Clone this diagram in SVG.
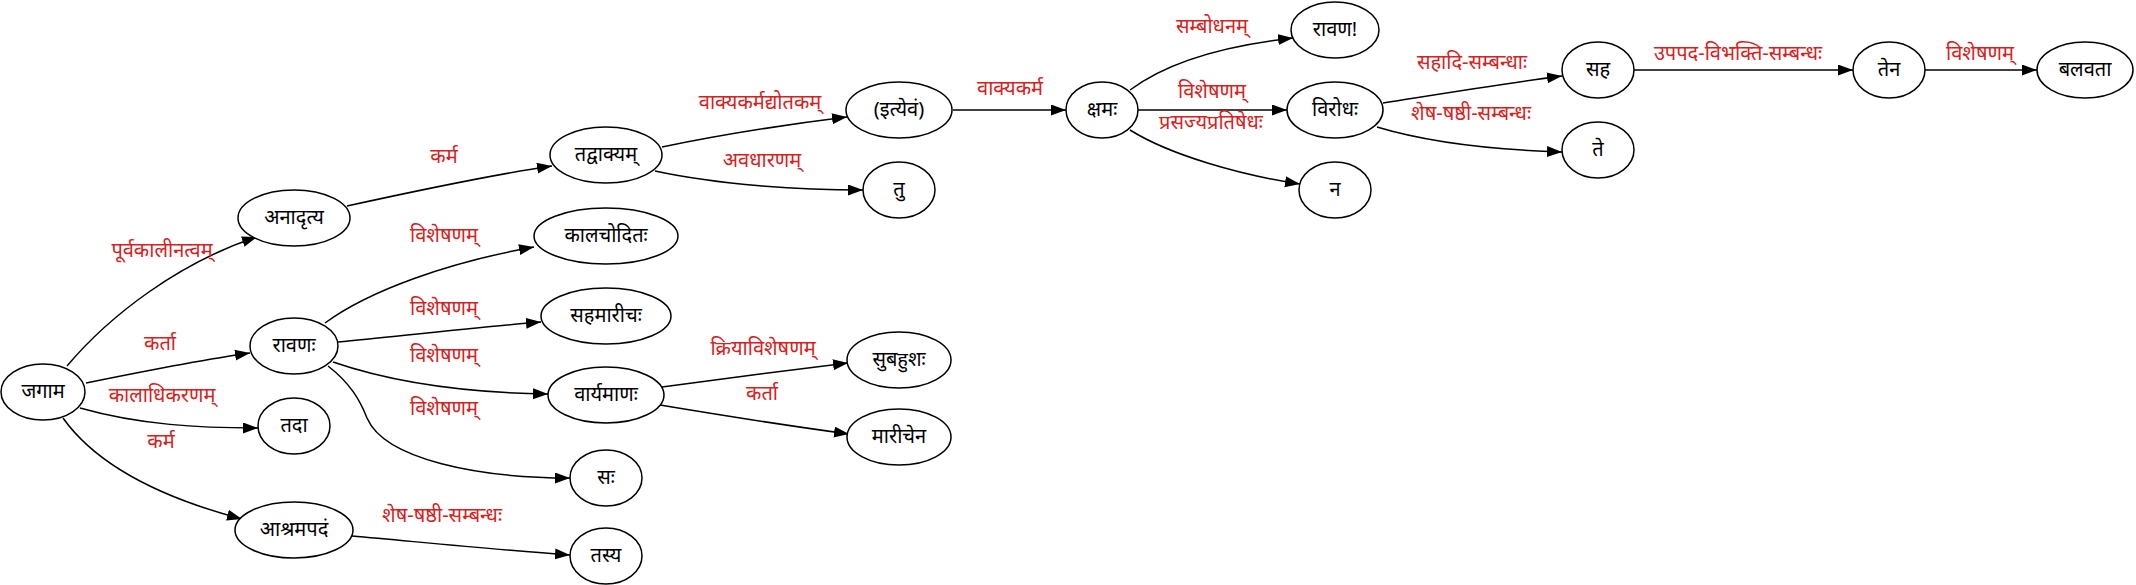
<svg xmlns="http://www.w3.org/2000/svg" width="2136" height="585" viewBox="0 0 2136 585">
<defs>
<marker id="ah" markerUnits="userSpaceOnUse" markerWidth="16" markerHeight="12" refX="15" refY="5.5" orient="auto">
<path d="M0,0 L15,5.5 L0,11 Z" fill="#000"/>
</marker>
<style>
.n ellipse{fill:#fff;stroke:#000;stroke-width:1.5}
.n text{font-family:"Noto Sans","Noto Sans Devanagari","Lohit Devanagari",sans-serif;font-size:20px;fill:#000;text-anchor:middle}
.e path{fill:none;stroke:#000;stroke-width:1.5;marker-end:url(#ah)}
.e text{font-family:"Noto Sans","Noto Sans Devanagari","Lohit Devanagari",sans-serif;font-size:20px;fill:#d42222;text-anchor:middle}
</style>
</defs>
<rect width="2136" height="585" fill="#fff"/>
<g id="edges" class="e">
<path d="M67,366 C110,315 180,262 257,237"/>
<text x="162" y="257">पूर्वकालीनत्वम्</text>
<path d="M86,383 C150,370 200,360 250,353"/>
<text x="160" y="350">कर्ता</text>
<path d="M80,408 C140,425 200,428 258,428"/>
<text x="162" y="402">कालाधिकरणम्</text>
<path d="M63,418 C100,470 170,500 242,519"/>
<text x="161" y="448">कर्म</text>
<path d="M347,206 C420,190 490,175 552,166"/>
<text x="444" y="163">कर्म</text>
<path d="M325,323 C370,290 450,262 534,247"/>
<text x="444" y="242">विशेषणम्</text>
<path d="M338,342 C400,336 470,328 541,322"/>
<text x="444" y="315">विशेषणम्</text>
<path d="M333,362 C400,385 480,393 548,394"/>
<text x="444" y="362">विशेषणम्</text>
<path d="M328,366 C350,383 360,400 367,418 C385,460 480,478 570,478"/>
<text x="444" y="415">विशेषणम्</text>
<path d="M352,536 C430,543 500,550 570,555"/>
<text x="442" y="522">शेष-षष्ठी-सम्बन्धः</text>
<path d="M662,147 C720,135 790,124 847,117"/>
<text x="760" y="109">वाक्यकर्मद्योतकम्</text>
<path d="M655,171 C720,185 800,190 863,190"/>
<text x="762" y="167">अवधारणम्</text>
<path d="M662,387 C720,379 790,370 848,363"/>
<text x="763" y="355">क्रियाविशेषणम्</text>
<path d="M660,405 C720,415 790,426 849,434"/>
<text x="762" y="400">कर्ता</text>
<path d="M953,110 L1066,110"/>
<text x="1010" y="95">वाक्यकर्म</text>
<path d="M1130,90 C1170,60 1230,45 1293,38"/>
<text x="1212" y="33">सम्बोधनम्</text>
<path d="M1138,110 L1287,110"/>
<text x="1212" y="98">विशेषणम्</text>
<path d="M1130,130 C1170,155 1240,175 1300,184"/>
<text x="1211" y="129">प्रसज्यप्रतिषेधः</text>
<path d="M1383,103 C1440,94 1500,84 1562,76"/>
<text x="1472" y="69">सहादि-सम्बन्धाः</text>
<path d="M1377,127 C1430,143 1500,150 1562,152"/>
<text x="1471" y="120">शेष-षष्ठी-सम्बन्धः</text>
<path d="M1634,70 L1853,70"/>
<text x="1738" y="60">उपपद-विभक्ति-सम्बन्धः</text>
<path d="M1925,70 L2037,70"/>
<text x="1980" y="60">विशेषणम्</text>
</g>
<g id="n_jagAma" class="n"><ellipse cx="43" cy="392" rx="42" ry="28"/><text x="43" y="398">जगाम</text></g>
<g id="n_anAdRtya" class="n"><ellipse cx="294" cy="218" rx="56" ry="28"/><text x="294" y="224">अनादृत्य</text></g>
<g id="n_rAvaNaH" class="n"><ellipse cx="294" cy="346" rx="44" ry="28"/><text x="294" y="352">रावणः</text></g>
<g id="n_tadA" class="n"><ellipse cx="294" cy="426" rx="36" ry="28"/><text x="294" y="432">तदा</text></g>
<g id="n_AzramapadaM" class="n"><ellipse cx="294" cy="530" rx="59" ry="28"/><text x="294" y="536">आश्रमपदं</text></g>
<g id="n_tadvAkyam" class="n"><ellipse cx="606" cy="155" rx="56" ry="28"/><text x="606" y="161">तद्वाक्यम्</text></g>
<g id="n_kAlacoditaH" class="n"><ellipse cx="606" cy="236" rx="72" ry="28"/><text x="606" y="242">कालचोदितः</text></g>
<g id="n_sahamArIcaH" class="n"><ellipse cx="606" cy="316" rx="65" ry="28"/><text x="606" y="322">सहमारीचः</text></g>
<g id="n_vAryamANaH" class="n"><ellipse cx="606" cy="395" rx="58" ry="28"/><text x="606" y="401">वार्यमाणः</text></g>
<g id="n_saH" class="n"><ellipse cx="606" cy="478" rx="36" ry="28"/><text x="606" y="484">सः</text></g>
<g id="n_tasya" class="n"><ellipse cx="606" cy="556" rx="36" ry="28"/><text x="606" y="562">तस्य</text></g>
<g id="n_ityevaM" class="n"><ellipse cx="899" cy="110" rx="53" ry="28"/><text x="899" y="116">(इत्येवं)</text></g>
<g id="n_tu" class="n"><ellipse cx="899" cy="190" rx="36" ry="28"/><text x="899" y="196">तु</text></g>
<g id="n_subahuzaH" class="n"><ellipse cx="899" cy="360" rx="52" ry="28"/><text x="899" y="366">सुबहुशः</text></g>
<g id="n_mArIcena" class="n"><ellipse cx="899" cy="437" rx="52" ry="28"/><text x="899" y="443">मारीचेन</text></g>
<g id="n_kSamaH" class="n"><ellipse cx="1102" cy="110" rx="36" ry="28"/><text x="1102" y="116">क्षमः</text></g>
<g id="n_rAvaNa" class="n"><ellipse cx="1335" cy="30" rx="44" ry="28"/><text x="1335" y="36">रावण!</text></g>
<g id="n_virodhaH" class="n"><ellipse cx="1335" cy="110" rx="48" ry="28"/><text x="1335" y="116">विरोधः</text></g>
<g id="n_na" class="n"><ellipse cx="1335" cy="190" rx="36" ry="28"/><text x="1335" y="196">न</text></g>
<g id="n_saha" class="n"><ellipse cx="1598" cy="70" rx="36" ry="28"/><text x="1598" y="76">सह</text></g>
<g id="n_te" class="n"><ellipse cx="1598" cy="150" rx="36" ry="28"/><text x="1598" y="156">ते</text></g>
<g id="n_tena" class="n"><ellipse cx="1889" cy="70" rx="36" ry="28"/><text x="1889" y="76">तेन</text></g>
<g id="n_balavatA" class="n"><ellipse cx="2085" cy="70" rx="48" ry="28"/><text x="2085" y="76">बलवता</text></g>
</svg>
